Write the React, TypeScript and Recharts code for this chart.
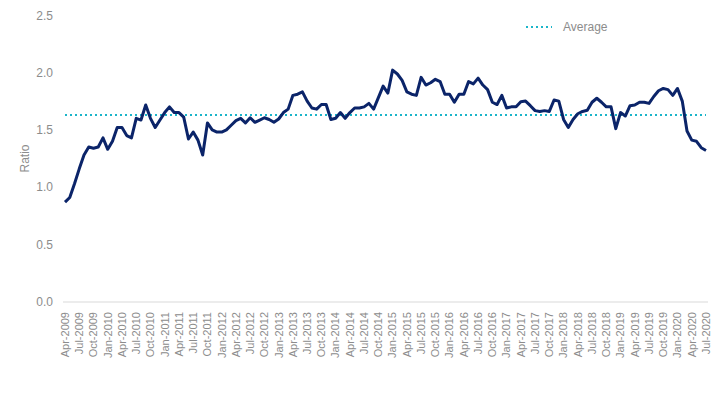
import React from 'react';
import { LineChart, Line, XAxis, YAxis } from 'recharts';

const months: string[] = [
  'Apr-2009','May-2009','Jun-2009','Jul-2009','Aug-2009','Sep-2009','Oct-2009','Nov-2009','Dec-2009','Jan-2010','Feb-2010','Mar-2010',
  'Apr-2010','May-2010','Jun-2010','Jul-2010','Aug-2010','Sep-2010','Oct-2010','Nov-2010','Dec-2010','Jan-2011','Feb-2011','Mar-2011',
  'Apr-2011','May-2011','Jun-2011','Jul-2011','Aug-2011','Sep-2011','Oct-2011','Nov-2011','Dec-2011','Jan-2012','Feb-2012','Mar-2012',
  'Apr-2012','May-2012','Jun-2012','Jul-2012','Aug-2012','Sep-2012','Oct-2012','Nov-2012','Dec-2012','Jan-2013','Feb-2013','Mar-2013',
  'Apr-2013','May-2013','Jun-2013','Jul-2013','Aug-2013','Sep-2013','Oct-2013','Nov-2013','Dec-2013','Jan-2014','Feb-2014','Mar-2014',
  'Apr-2014','May-2014','Jun-2014','Jul-2014','Aug-2014','Sep-2014','Oct-2014','Nov-2014','Dec-2014','Jan-2015','Feb-2015','Mar-2015',
  'Apr-2015','May-2015','Jun-2015','Jul-2015','Aug-2015','Sep-2015','Oct-2015','Nov-2015','Dec-2015','Jan-2016','Feb-2016','Mar-2016',
  'Apr-2016','May-2016','Jun-2016','Jul-2016','Aug-2016','Sep-2016','Oct-2016','Nov-2016','Dec-2016','Jan-2017','Feb-2017','Mar-2017',
  'Apr-2017','May-2017','Jun-2017','Jul-2017','Aug-2017','Sep-2017','Oct-2017','Nov-2017','Dec-2017','Jan-2018','Feb-2018','Mar-2018',
  'Apr-2018','May-2018','Jun-2018','Jul-2018','Aug-2018','Sep-2018','Oct-2018','Nov-2018','Dec-2018','Jan-2019','Feb-2019','Mar-2019',
  'Apr-2019','May-2019','Jun-2019','Jul-2019','Aug-2019','Sep-2019','Oct-2019','Nov-2019','Dec-2019','Jan-2020','Feb-2020','Mar-2020',
  'Apr-2020','May-2020','Jun-2020','Jul-2020',
];

const ratio: number[] = [
  0.87, 0.91, 1.03, 1.16, 1.28, 1.35, 1.34, 1.35, 1.43, 1.33, 1.40, 1.52,
  1.52, 1.45, 1.43, 1.60, 1.585, 1.716, 1.60, 1.52, 1.585, 1.65, 1.70, 1.65,
  1.65, 1.61, 1.42, 1.48, 1.41, 1.28, 1.56, 1.50, 1.48, 1.48, 1.50, 1.54,
  1.58, 1.60, 1.56, 1.605, 1.565, 1.585, 1.605, 1.59, 1.565, 1.594, 1.65, 1.68,
  1.80, 1.81, 1.83, 1.75, 1.69, 1.68, 1.72, 1.72, 1.59, 1.60, 1.65, 1.60,
  1.65, 1.69, 1.69, 1.70, 1.73, 1.68, 1.78, 1.88, 1.82, 2.02, 1.986, 1.93,
  1.83, 1.81, 1.80, 1.957, 1.89, 1.91, 1.94, 1.92, 1.81, 1.81, 1.74, 1.81,
  1.81, 1.92, 1.90, 1.95, 1.89, 1.85, 1.74, 1.72, 1.80, 1.69, 1.70, 1.70,
  1.745, 1.75, 1.71, 1.667, 1.66, 1.667, 1.66, 1.76, 1.75, 1.59, 1.52, 1.59,
  1.64, 1.66, 1.67, 1.74, 1.775, 1.74, 1.70, 1.70, 1.51, 1.65, 1.62, 1.71,
  1.716, 1.74, 1.74, 1.73, 1.79, 1.84, 1.86, 1.85, 1.80, 1.86, 1.75, 1.49,
  1.41, 1.40, 1.344, 1.32,
];

const AVERAGE = 1.63;
const yTicks: number[] = [0, 0.5, 1.0, 1.5, 2.0, 2.5];

const data = months.map((m, i) => ({ month: m, ratio: ratio[i], avg: AVERAGE }));

const FONT = '"Liberation Sans", Arial, sans-serif';
const GREY = '#8c8c8c';
const NAVY = '#0b2469';
const TEAL = '#1bb5c9';

const XTick = (props: any) => {
  const { x, y, payload } = props;
  return (
    <text
      x={x}
      y={y}
      dy="0.35em"
      transform={`rotate(-90 ${x} ${y})`}
      textAnchor="end"
      fill={GREY}
      fontSize={11}
      fontFamily={FONT}
    >
      {payload.value}
    </text>
  );
};

export default function App() {
  return (
    <div style={{ position: 'relative', width: 714, height: 391, fontFamily: FONT }}>
      <LineChart
        width={714}
        height={391}
        data={data}
        margin={{ top: 7, right: 14, bottom: 0, left: 0 }}
      >
        <XAxis
          dataKey="month"
          interval={2}
          tickLine={false}
          tickSize={0}
          tickMargin={10}
          height={97}
          padding={{ left: 2, right: 2 }}
          axisLine={{ stroke: '#d9d9d9', strokeWidth: 1 }}
          tick={<XTick />}
        />
        <YAxis
          domain={[0, 2.5]}
          ticks={yTicks}
          width={55}
          axisLine={false}
          tickLine={false}
          tickSize={0}
          tickMargin={10}
          tickFormatter={(v: number) => v.toFixed(1)}
          tick={{ fill: GREY, fontSize: 12, fontFamily: FONT }}
          label={{
            value: 'Ratio',
            angle: -90,
            position: 'insideLeft',
            offset: 17,
            style: { fill: GREY, fontSize: 12, fontFamily: FONT, textAnchor: 'middle' },
          }}
        />
        <Line
          dataKey="avg"
          stroke={TEAL}
          strokeWidth={2}
          strokeDasharray="2 3"
          dot={false}
          isAnimationActive={false}
        />
        <Line
          dataKey="ratio"
          type="linear"
          stroke={NAVY}
          strokeWidth={3}
          strokeLinejoin="round"
          dot={false}
          isAnimationActive={false}
        />
      </LineChart>
      <div
        style={{
          position: 'absolute',
          left: 517,
          top: 12,
          display: 'flex',
          alignItems: 'center',
          fontSize: 12,
          color: GREY,
          fontFamily: FONT,
          lineHeight: '14px',
        }}
      >
        <svg width={28} height={6} style={{ marginRight: 10 }}>
          <line x1={1} y1={3} x2={27} y2={3} stroke={TEAL} strokeWidth={2} strokeDasharray="2 3" />
        </svg>
        <span>Average</span>
      </div>
    </div>
  );
}
